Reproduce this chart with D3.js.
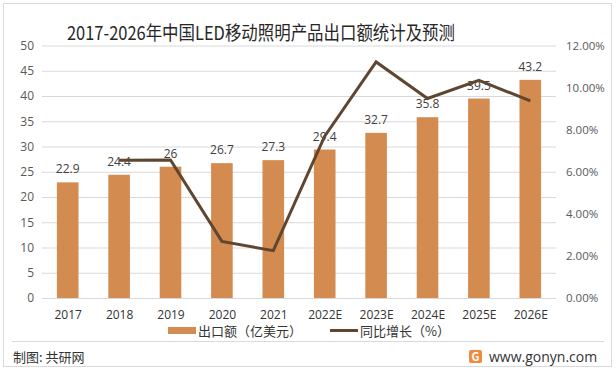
<!DOCTYPE html>
<html><head><meta charset="utf-8">
<script src="https://cdn.jsdelivr.net/npm/d3@7"></script>
<style>
body{margin:0;background:#fff;}
svg{display:block;font-family:"Noto Sans CJK SC","Noto Sans",sans-serif;}
</style></head>
<body><svg id="c" width="616" height="370"></svg>
<script>
const categories = ["2017","2018","2019","2020","2021","2022E","2023E","2024E","2025E","2026E"];
const exportValues = [22.9,24.4,26,26.7,27.3,29.4,32.7,35.8,39.5,43.2];
const growthValues = [null,6.55,6.56,2.69,2.25,7.69,11.22,9.48,10.34,9.37];
const leftTicks = [0,5,10,15,20,25,30,35,40,45,50];
const rightTicks = [0,2,4,6,8,10,12];
const title = "2017-2026年中国LED移动照明产品出口额统计及预测";
const legendLabels = ["出口额（亿美元）","同比增长（%）"];

const svg = d3.select("#c");
const W=616,H=370;
const m={left:42,right:556,top:45.5,bottom:298};
const barColor="#D38B4F", lineColor="#5F4630";

svg.append("rect").attr("x",3.5).attr("y",3.5).attr("width",W-8).attr("height",H-7)
  .attr("fill","#fff").attr("stroke","#d9d9d9");

const x=d3.scaleBand().domain(categories).range([m.left,m.right]).paddingInner(0.58).paddingOuter(0.29);
const xc=d3.scalePoint().domain(categories).range([m.left,m.right]).padding(0.5);
const y=d3.scaleLinear().domain([0,50]).range([m.bottom,m.top]);
const y2=d3.scaleLinear().domain([0,12]).range([m.bottom,m.top]);

// grid
svg.append("g").selectAll("line").data(leftTicks).join("line")
  .attr("x1",m.left).attr("x2",m.right).attr("y1",d=>y(d)+0.5).attr("y2",d=>y(d)+0.5)
  .attr("stroke","#d9d9d9").attr("stroke-width",1);

// left axis
const ga=svg.append("g").attr("transform",`translate(${m.left-8},0)`)
  .call(d3.axisLeft(y).tickValues(leftTicks).tickSize(0).tickPadding(0));
ga.select(".domain").remove();
ga.selectAll("text").attr("font-size",12).attr("fill","#595959").attr("font-family","Open Sans, sans-serif");

const gr=svg.append("g").attr("transform",`translate(${m.right+10},0)`)
  .call(d3.axisRight(y2).tickValues(rightTicks).tickSize(0).tickPadding(0).tickFormat(d=>d.toFixed(2)+"%"));
gr.select(".domain").remove();
gr.selectAll("text").attr("font-size",11.5).attr("fill","#595959").attr("font-family","Open Sans, sans-serif");

// x axis
const gx=svg.append("g").attr("transform",`translate(0,${m.bottom+12})`)
  .call(d3.axisBottom(xc).tickSize(0).tickPadding(0));
gx.select(".domain").remove();
gx.selectAll("text").attr("font-size",12).attr("fill","#333").attr("font-family","Open Sans, sans-serif");

// bars
svg.append("g").selectAll("rect").data(exportValues).join("rect")
  .attr("x",(d,i)=>x(categories[i])).attr("width",x.bandwidth())
  .attr("y",d=>y(d)).attr("height",d=>y(0)-y(d)).attr("fill",barColor);

// bar labels
svg.append("g").selectAll("text").data(exportValues).join("text")
  .attr("x",(d,i)=>xc(categories[i])).attr("y",d=>y(d)-9)
  .attr("text-anchor","middle").attr("font-size",12).attr("fill","#404040")
  .attr("font-family","Open Sans, sans-serif").text(d=>d);

// line
const line=d3.line().defined(d=>d!=null).x((d,i)=>xc(categories[i])).y(d=>y2(d));
svg.append("path").datum(growthValues).attr("d",line).attr("fill","none")
  .attr("stroke",lineColor).attr("stroke-width",3).attr("stroke-linejoin","miter");

// title
svg.append("text").attr("x",261).attr("y",40).attr("text-anchor","middle")
  .attr("font-size",19).attr("fill","#262626")
  .attr("textLength",388).attr("lengthAdjust","spacingAndGlyphs").text(title);

// legend
const lg=svg.append("g");
lg.append("rect").attr("x",168).attr("y",327).attr("width",28).attr("height",7).attr("fill",barColor);
lg.append("text").attr("x",198).attr("y",336).attr("font-size",13).attr("fill","#333").text(legendLabels[0]);
lg.append("line").attr("x1",330).attr("x2",358).attr("y1",330.5).attr("y2",330.5).attr("stroke",lineColor).attr("stroke-width",3);
lg.append("text").attr("x",360).attr("y",336).attr("font-size",13).attr("fill","#333").text(legendLabels[1]);

// footer
svg.append("line").attr("x1",12).attr("x2",604).attr("y1",341.5).attr("y2",341.5).attr("stroke","#d9d9d9");
svg.append("text").attr("x",13).attr("y",362).attr("font-size",13).attr("fill","#333").text("制图: 共研网");
const lgx=469;
svg.append("rect").attr("x",lgx).attr("y",350).attr("width",13).attr("height",13).attr("rx",2).attr("fill","#F08A3E");
svg.append("text").attr("x",lgx+6.5).attr("y",361).attr("text-anchor","middle").attr("font-size",11).attr("font-weight","bold").attr("fill","#fff").text("G");
svg.append("text").attr("x",489).attr("y",362).attr("font-size",14).attr("fill","#333").attr("font-family","Open Sans, sans-serif").text("www.gonyn.com");
</script></body></html>
